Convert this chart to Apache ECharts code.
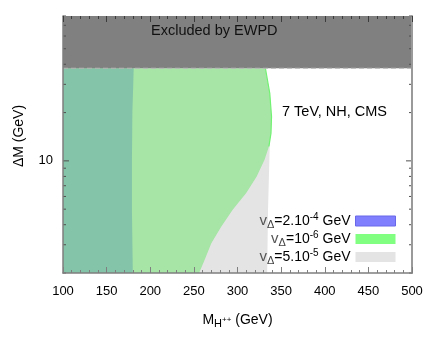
<!DOCTYPE html>
<html>
<head>
<meta charset="utf-8">
<script src="https://cdn.jsdelivr.net/npm/echarts@6/dist/echarts.min.js"></script>
<style>
  html, body { margin: 0; padding: 0; background: #fff; }
  #chart { width: 436px; height: 349px; }
</style>
</head>
<body>
<div id="chart"></div>
<script>
// --- datos ---
const mRange = [100, 500];          // M_H++ (GeV)
const dmRange = [2, 80];            // ΔM (GeV), escala log
const ewpdLimit = 37.8;             // por encima: excluido por EWPD
const dmTicks = [2, 3, 4, 5, 6, 7, 8, 9, 10, 20, 30, 40, 50, 60, 70, 80];

// contornos [M, ΔM]
const blueEdge = [[181, 37.8], [180.5, 30], [179.5, 20], [179, 10], [179, 5], [180, 2]];
const greenEdge = [[332, 37.8], [337, 26.4], [339, 18.9], [338.4, 14.9], [336, 12.3], [331, 10.15],
  [322, 8.0], [310, 6.3], [294.5, 4.96], [281.5, 3.9], [270, 3.07], [262.4, 2.42], [256, 2]];
const greyEdge = [[337, 13], [336.5, 10], [335, 5], [334, 2]];

const seriesNames = ['v1', 'v2', 'v3'];
const legendLabels = {
  v1: '{v|v}{sub|Δ}=2.10{sup|-4} GeV',
  v2: '{v|v}{sub|Δ}=10{sup|-6} GeV',
  v3: '{v|v}{sub|Δ}=5.10{sup|-5} GeV'
};

// regiones cerradas
const bluePoly = [[mRange[0], ewpdLimit]].concat(blueEdge, [[mRange[0], dmRange[0]]]);
const greenPoly = [[mRange[0], ewpdLimit]].concat(greenEdge, [[mRange[0], dmRange[0]]]);
const greyPoly = [[240, 13]].concat(greyEdge, [[240, 2]]);
const ewpdPoly = [[mRange[0], ewpdLimit], [mRange[1], ewpdLimit], [mRange[1], dmRange[1]], [mRange[0], dmRange[1]]];

const FONT = 'Liberation Sans';

function polygonItem(pts) {
  return function (params, api) {
    if (params.dataIndex !== 0) return;
    return {
      type: 'polygon',
      shape: { points: pts.map(p => api.coord(p)) },
      style: { fill: api.visual('color') }
    };
  };
}

function regionSeries(name, pts, color, z) {
  return {
    name: name,
    type: 'custom',
    silent: true,
    z: z,
    itemStyle: { color: color },
    data: pts,
    encode: { x: 0, y: 1 },
    renderItem: polygonItem(pts)
  };
}

const chart = echarts.init(document.getElementById('chart'));

const richLegend = {
  v: { fontFamily: FONT, fontSize: 15, color: '#555', lineHeight: 18 },
  sub: { fontFamily: FONT, fontSize: 11, color: '#444', lineHeight: 10, verticalAlign: 'bottom' },
  sup: { fontFamily: FONT, fontSize: 10, color: '#000', lineHeight: 10, verticalAlign: 'top' }
};

chart.setOption({
  animation: false,
  grid: { left: 63, right: 24, top: 16, bottom: 76 },
  xAxis: [{
    type: 'value', min: mRange[0], max: mRange[1], interval: 50, z: 10,
    name: 'M{sub|H}{sup|++} (GeV)', nameLocation: 'middle', nameGap: 38,
    nameTextStyle: {
      fontFamily: FONT, fontSize: 14, color: '#000', lineHeight: 18,
      rich: {
        sub: { fontFamily: FONT, fontSize: 11, lineHeight: 10, verticalAlign: 'bottom', color: '#000' },
        sup: { fontFamily: FONT, fontSize: 8, lineHeight: 14, verticalAlign: 'middle', color: '#000' }
      }
    },
    axisLine: { show: true, lineStyle: { color: '#7f7f7f', width: 1.5 } },
    axisTick: { show: true, inside: true, length: 6, lineStyle: { color: '#7f7f7f' } },
    minorTick: { show: true, splitNumber: 5, length: 3, lineStyle: { color: '#7f7f7f' } },
    axisLabel: { fontFamily: FONT, fontSize: 13, color: '#000', margin: 12 },
    splitLine: { show: false }
  }, {
    type: 'value', position: 'top', min: mRange[0], max: mRange[1], interval: 50, z: 10,
    axisLine: { show: true, lineStyle: { color: '#7f7f7f', width: 1 } },
    axisTick: { show: true, inside: true, length: 6, lineStyle: { color: '#3c3c3c' } },
    minorTick: { show: true, splitNumber: 5, length: 3, lineStyle: { color: '#3c3c3c' } },
    axisLabel: { show: false },
    splitLine: { show: false }
  }],
  yAxis: [{
    type: 'log', logBase: 10, min: dmRange[0], max: dmRange[1], z: 10,
    axisLine: { show: true, lineStyle: { color: '#7f7f7f', width: 1.5 } },
    axisTick: { show: false },
    axisLabel: {
      fontFamily: FONT, fontSize: 13, color: '#000', margin: 10,
      formatter: v => (Math.abs(v - 10) < 1e-6 ? '10' : '')
    },
    splitLine: { show: false }
  }, {
    type: 'log', logBase: 10, min: dmRange[0], max: dmRange[1], position: 'right', z: 10,
    axisLine: { show: true, lineStyle: { color: '#9a9a9a', width: 2 } },
    axisTick: { show: false },
    axisLabel: { show: false },
    splitLine: { show: false }
  }],
  legend: {
    orient: 'vertical', right: 40, top: 212, align: 'right',
    itemWidth: 40, itemHeight: 10, itemGap: 0, padding: 0,
    selectedMode: false,
    data: [
      { name: seriesNames[0], icon: 'rect', itemStyle: { color: '#8080ff', borderColor: '#6868e8', borderWidth: 1 } },
      { name: seriesNames[1], icon: 'rect', itemStyle: { color: '#80ff80', borderColor: '#80ff80', borderWidth: 0 } },
      { name: seriesNames[2], icon: 'rect', itemStyle: { color: '#e4e4e4', borderWidth: 0 } }
    ],
    formatter: name => legendLabels[name],
    textStyle: { fontFamily: FONT, fontSize: 14, color: '#000', lineHeight: 18, rich: richLegend }
  },
  graphic: [
    {
      type: 'text', left: 151, top: 23, z: 20,
      style: { text: 'Excluded by EWPD', font: '14.5px "Liberation Sans"', fill: '#111' }
    },
    {
      type: 'text', left: 282, top: 104, z: 20,
      style: { text: '7 TeV, NH, CMS', font: '14.5px "Liberation Sans"', fill: '#000' }
    },
    {
      type: 'text', x: 19, y: 136, rotation: Math.PI / 2, z: 20,
      style: { text: 'ΔM (GeV)', font: '14px "Liberation Sans"', fill: '#000', align: 'center', verticalAlign: 'middle' }
    }
  ],
  series: [
    regionSeries(seriesNames[2], greyPoly, '#e4e4e4', 2),
    regionSeries(seriesNames[1], greenPoly, '#a6e5a6', 3),
    regionSeries(seriesNames[0], bluePoly, '#84c4a8', 4),
    regionSeries('ewpd', ewpdPoly, '#808080', 5),
    {
      name: 'edge', type: 'line', silent: true, z: 4, symbol: 'none',
      data: greenEdge.slice(0, 5),
      lineStyle: { color: '#72f272', width: 1.2 }
    },
    {
      name: 'ewpdLine', type: 'line', silent: true, z: 6, symbol: 'none',
      data: [[mRange[0], ewpdLimit], [mRange[1], ewpdLimit]],
      lineStyle: { color: '#b4b4b4', width: 1, type: [5, 3] }
    },
    {
      name: 'dmTicks', type: 'custom', silent: true, z: 8,
      data: dmTicks.map(v => [mRange[0], v]),
      encode: { x: 0, y: 1 },
      renderItem: (params, api) => {
        const v = api.value(1);
        const len = v === 10 ? 6 : 3;
        const l = api.coord([mRange[0], v]);
        const r = api.coord([mRange[1], v]);
        const st = { stroke: '#505050', lineWidth: 1 };
        return {
          type: 'group',
          children: [
            { type: 'line', shape: { x1: l[0], y1: l[1], x2: l[0] + len, y2: l[1] }, style: st },
            { type: 'line', shape: { x1: r[0], y1: r[1], x2: r[0] - len, y2: r[1] }, style: st }
          ]
        };
      }
    }
  ]
});
</script>
</body>
</html>
